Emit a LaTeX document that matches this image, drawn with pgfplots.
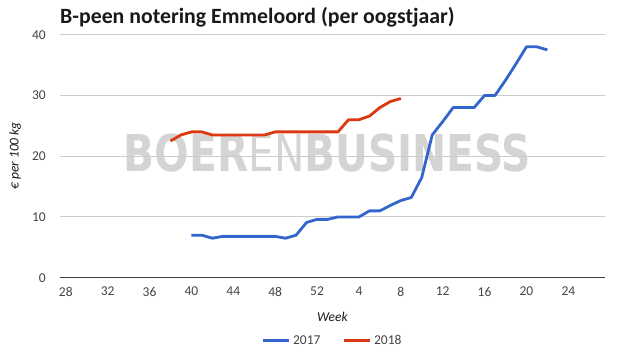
\documentclass[border=0pt]{standalone}
\usepackage{pgfplots}
\pgfplotsset{compat=1.18}
\usepackage{fontspec}
\setmainfont{Carlito}
\newfontfamily\wmfont{DejaVu Sans}
\definecolor{gblue}{HTML}{3366CC}
\definecolor{gred}{HTML}{DC3912}
\definecolor{txt}{HTML}{444444}
\begin{document}
\begin{tikzpicture}[x=1pt,y=1pt]
\useasboundingbox (-60,-74.3) rectangle (565,277.7);
\node[anchor=base, text=black!17, xscale=0.80, inner sep=0pt, font=\wmfont\fontsize{50.8}{52}\selectfont] at (267.5,106) {{\bfseries BOER}{\mdseries EN}{\bfseries BUSINESS}};
\node[anchor=base west, inner sep=0pt, font=\bfseries\fontsize{21.8}{24}\selectfont, text=black!90] at (0,253.7) {B-peen notering Emmeloord (per oogstjaar)};
\begin{axis}[
  at={(0pt,0pt)}, anchor=south west,
  scale only axis, width=545pt, height=243pt,
  xmin=27.45, xmax=79.5, ymin=0, ymax=40,
  xtick={28,32,...,76},
  xticklabels={28,32,36,40,44,48,52,4,8,12,16,20,24},
  ytick={0,10,20,30,40},
  ymajorgrids, grid style={draw=black!20, line width=0.9pt},
  axis x line*=bottom, axis y line*=left,
  axis line style={-},
  x axis line style={draw=black!75, line width=1pt},
  y axis line style={draw=none},
  major tick length=0pt,
  /pgf/number format/assume math mode=true,
  tick label style={font=\fontsize{13.5}{16}\selectfont, text=txt},
  xticklabel style={inner sep=0pt, anchor=north, yshift=-9pt},
  yticklabel style={inner sep=0pt, anchor=east, xshift=-14pt},
  xlabel={Week}, ylabel={€ per 100 kg},
  label style={font=\itshape\fontsize{13.5}{16}\selectfont, text=black!90},
  xlabel style={at={(axis description cs:0.5,0)}, anchor=center, yshift=-39.3pt},
  ylabel style={at={(axis description cs:-0.0826,0.5)}, anchor=center},
  legend style={at={(axis description cs:0.5,0)}, anchor=center, yshift=-62.8pt,
    draw=none, fill=none, legend columns=2, inner sep=0pt,
    font=\fontsize{13.5}{16}\selectfont, text=txt,
    /tikz/every even column/.append style={column sep=20pt}},
  legend image code/.code={\draw[line width=3.6pt] (0pt,0pt) -- (26pt,0pt);},
  every axis plot/.append style={line width=2.8pt, line join=round, mark=none},
]
\addplot[gblue] coordinates {
(40,7) (41,7) (42,6.5) (43,6.8) (44,6.8) (45,6.8) (46,6.8) (47,6.8) (48,6.8) (49,6.5)
(50,7) (51,9.1) (52,9.6) (53,9.6) (54,10) (55,10) (56,10) (57,11) (58,11) (59,11.9)
(60,12.7) (61,13.2) (62,16.5) (63,23.5) (64,25.7) (65,28) (66,28) (67,28) (68,30) (69,30)
(70,32.5) (71,35.2) (72,38) (73,38) (74,37.5)};
\addlegendentry{2017}
\addplot[gred] coordinates {
(38,22.5) (39,23.5) (40,24) (41,24) (42,23.5) (43,23.5) (44,23.5) (45,23.5) (46,23.5) (47,23.5)
(48,24) (49,24) (50,24) (51,24) (52,24) (53,24) (54,24) (55,26) (56,26) (57,26.6)
(58,28) (59,29) (60,29.5)};
\addlegendentry{2018}
\end{axis}
\end{tikzpicture}
\end{document}
